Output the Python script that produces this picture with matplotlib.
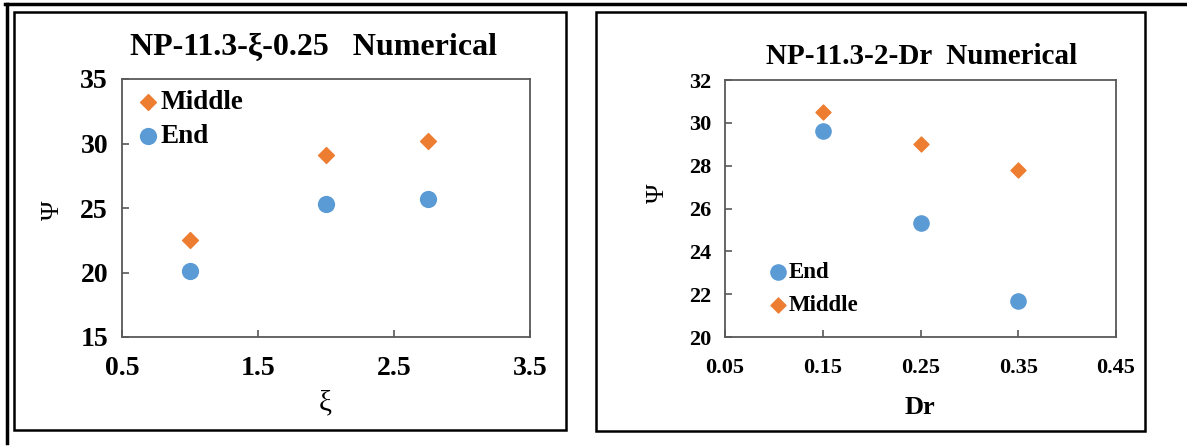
import matplotlib
matplotlib.use('Agg')
import matplotlib.pyplot as plt
from matplotlib.patches import Rectangle
from matplotlib.lines import Line2D

# data
xi = [1.0, 2.0, 2.75]
xi_middle = [22.5, 29.1, 30.2]
xi_end = [20.1, 25.3, 25.7]

dr = [0.15, 0.25, 0.35]
dr_middle = [30.5, 29.0, 27.8]
dr_end = [29.6, 25.3, 21.7]

xi_ticks = [0.5, 1.5, 2.5, 3.5]
xi_yticks = [15, 20, 25, 30, 35]
dr_ticks = [0.05, 0.15, 0.25, 0.35, 0.45]
dr_yticks = [20, 22, 24, 26, 28, 30, 32]

BLUE = '#5B9BD5'
ORANGE = '#ED7D31'
SPINE = '#595959'

W, H = 1187, 446
plt.rcParams['font.family'] = ['Liberation Serif', 'DejaVu Serif']

fig = plt.figure(figsize=(W / 100, H / 100), dpi=100)


def px(x0, y0, x1, y1):
    # pixel box -> figure rect
    return [x0 / W, 1 - y1 / H, (x1 - x0) / W, (y1 - y0) / H]


def style(ax, size):
    for s in ax.spines.values():
        s.set_color(SPINE)
        s.set_linewidth(1.3)
    ax.tick_params(direction='in', length=5, width=1.2, color=SPINE,
                   labelsize=size, pad=10)
    for lab in ax.get_xticklabels() + ax.get_yticklabels():
        lab.set_fontweight('bold')


# left panel
ax1 = fig.add_axes(px(122, 79, 530, 337))
ax1.scatter(xi, xi_middle, marker='D', s=65, color=ORANGE, label='Middle', zorder=3)
ax1.scatter(xi, xi_end, marker='o', s=130, color=BLUE, label='End', zorder=3)
ax1.set_xlim(0.5, 3.5)
ax1.set_ylim(15, 35)
ax1.set_xticks(xi_ticks)
ax1.set_xticklabels([str(t) for t in xi_ticks])
ax1.set_yticks(xi_yticks)
ax1.set_yticklabels([str(t) for t in xi_yticks])
style(ax1, 20)
ax1.tick_params(axis='x', pad=14)
ax1.legend(loc='upper left', bbox_to_anchor=(140 / W, 1 - 90 / H),
           bbox_transform=fig.transFigure, frameon=False, borderpad=0,
           borderaxespad=0, handlelength=0.6, handletextpad=0.15,
           labelspacing=0.35, prop={'size': 19.5, 'weight': 'bold'})

fig.text(313 / W, 1 - 47 / H, 'NP-11.3-ξ-0.25   Numerical', ha='center', va='center',
         fontsize=23, fontweight='bold')
fig.text(53 / W, 1 - 210 / H, 'Ψ', ha='center', va='center', rotation=90, fontsize=19)
fig.text(325 / W, 1 - 403 / H, 'ξ', ha='center', va='center', fontsize=21)

# right panel
ax2 = fig.add_axes(px(725, 80, 1116, 337))
ax2.scatter(dr, dr_middle, marker='D', s=58, color=ORANGE, label='Middle', zorder=3)
ax2.scatter(dr, dr_end, marker='o', s=120, color=BLUE, label='End', zorder=3)
ax2.set_xlim(0.05, 0.45)
ax2.set_ylim(20, 32)
ax2.set_xticks(dr_ticks)
ax2.set_xticklabels([f'{t:.2f}' for t in dr_ticks])
ax2.set_yticks(dr_yticks)
ax2.set_yticklabels([str(t) for t in dr_yticks])
style(ax2, 16)
ax2.tick_params(axis='x', pad=15)
h, l = ax2.get_legend_handles_labels()
ax2.legend(h[::-1], l[::-1], loc='upper left', bbox_to_anchor=(771 / W, 1 - 262 / H),
           bbox_transform=fig.transFigure, frameon=False, borderpad=0,
           borderaxespad=0, handlelength=0.6, handletextpad=0.15,
           labelspacing=0.5, prop={'size': 16.5, 'weight': 'bold'})

fig.text(922 / W, 1 - 56 / H, 'NP-11.3-2-Dr  Numerical', ha='center', va='center',
         fontsize=21, fontweight='bold')
fig.text(658 / W, 1 - 193 / H, 'Ψ', ha='center', va='center', rotation=90, fontsize=19)
fig.text(920 / W, 1 - 407 / H, 'Dr', ha='center', va='center', fontsize=19,
         fontweight='bold')

# panel boxes and outer frame
for x0, y0, x1, y1 in [(14, 12, 566, 430), (596, 12, 1145, 431)]:
    fig.add_artist(Rectangle((x0 / W, 1 - y1 / H), (x1 - x0) / W, (y1 - y0) / H,
                             transform=fig.transFigure, fill=False,
                             edgecolor='black', linewidth=1.8))
fig.add_artist(Line2D([5 / W, 1], [1 - 4 / H, 1 - 4 / H], transform=fig.transFigure,
                      color='black', linewidth=2.5))
fig.add_artist(Line2D([6.5 / W, 6.5 / W], [1 - 4 / H, 1 - 443 / H],
                      transform=fig.transFigure, color='black', linewidth=2.5))

fig.savefig('out.png', dpi=100)
